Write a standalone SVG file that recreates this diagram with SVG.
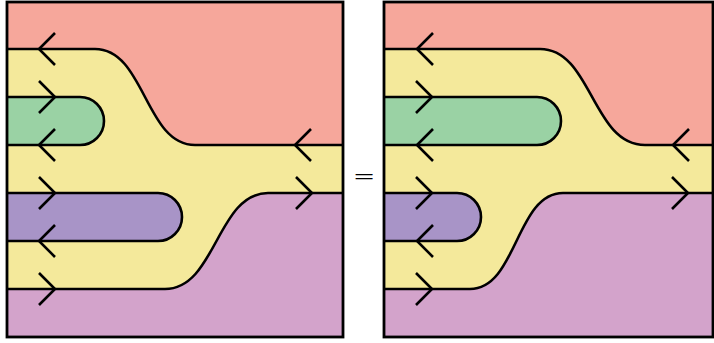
<svg xmlns="http://www.w3.org/2000/svg" width="714" height="343" viewBox="0 0 714 343">
<style>
.y{fill:#F4E99B}
.r{fill:#F6A79B}
.g{fill:#9AD2A4}
.p{fill:#A894C7}
.k{fill:#D3A3CB}
.ln{fill:none;stroke:#000;stroke-width:2.6;stroke-linejoin:round;stroke-linecap:butt}
.ar{fill:none;stroke:#000;stroke-width:2.6;stroke-linejoin:miter}
.fr{fill:none;stroke:#000;stroke-width:2.8}
</style>
<defs>
<path id="al" d="M16,-16 L0,0 L16,16"/>
<path id="ar" d="M-16,-16 L0,0 L-16,16"/>
</defs>
<g id="left-panel">
<rect class="y" x="7" y="2" width="336" height="335"/>
<path class="r" d="M7,2 H343 V145 H195 C145,145 145,49 95,49 H7 Z"/>
<path class="g" d="M7,97 H80 A24,24 0 0 1 80,145 H7 Z"/>
<path class="p" d="M7,193 H158 A24,24 0 0 1 158,241 H7 Z"/>
<path class="k" d="M7,289 H165 C216,289 217,193 268,193 H343 V337 H7 Z"/>
<path class="ln" d="M7,49 H95 C145,49 145,145 195,145 H343"/>
<path class="ln" d="M7,97 H80 A24,24 0 0 1 80,145 H7"/>
<path class="ln" d="M7,193 H158 A24,24 0 0 1 158,241 H7"/>
<path class="ln" d="M7,289 H165 C216,289 217,193 268,193 H343"/>
<rect class="fr" x="7" y="2" width="336" height="335"/>
</g>
<g id="right-panel">
<rect class="y" x="384" y="2" width="329" height="335"/>
<path class="r" d="M384,2 H713 V145 H645 C592,145 592,49 540,49 H384 Z"/>
<path class="g" d="M384,97 H537 A24,24 0 0 1 537,145 H384 Z"/>
<path class="p" d="M384,193 H457 A24,24 0 0 1 457,241 H384 Z"/>
<path class="k" d="M384,289 H470 C517,289 516,193 563,193 H713 V337 H384 Z"/>
<path class="ln" d="M384,49 H540 C592,49 592,145 645,145 H713"/>
<path class="ln" d="M384,97 H537 A24,24 0 0 1 537,145 H384"/>
<path class="ln" d="M384,193 H457 A24,24 0 0 1 457,241 H384"/>
<path class="ln" d="M384,289 H470 C517,289 516,193 563,193 H713"/>
<rect class="fr" x="384" y="2" width="329" height="335"/>
</g>
<g id="connectors" class="ar">
<use href="#al" x="39" y="49"/>
<use href="#ar" x="55" y="97"/>
<use href="#al" x="39" y="145"/>
<use href="#ar" x="55" y="193"/>
<use href="#al" x="39" y="241"/>
<use href="#ar" x="55" y="289"/>
<use href="#al" x="295" y="145"/>
<use href="#ar" x="312" y="193"/>
<use href="#al" x="417" y="49"/>
<use href="#ar" x="432" y="97"/>
<use href="#al" x="417" y="145"/>
<use href="#ar" x="432" y="193"/>
<use href="#al" x="417" y="241"/>
<use href="#ar" x="432" y="289"/>
<use href="#al" x="673" y="145"/>
<use href="#ar" x="688" y="193"/>
</g>
<text x="364" y="184.5" font-family="DejaVu Sans, sans-serif" font-size="27" font-weight="300" text-anchor="middle" fill="#000">=</text>
</svg>
